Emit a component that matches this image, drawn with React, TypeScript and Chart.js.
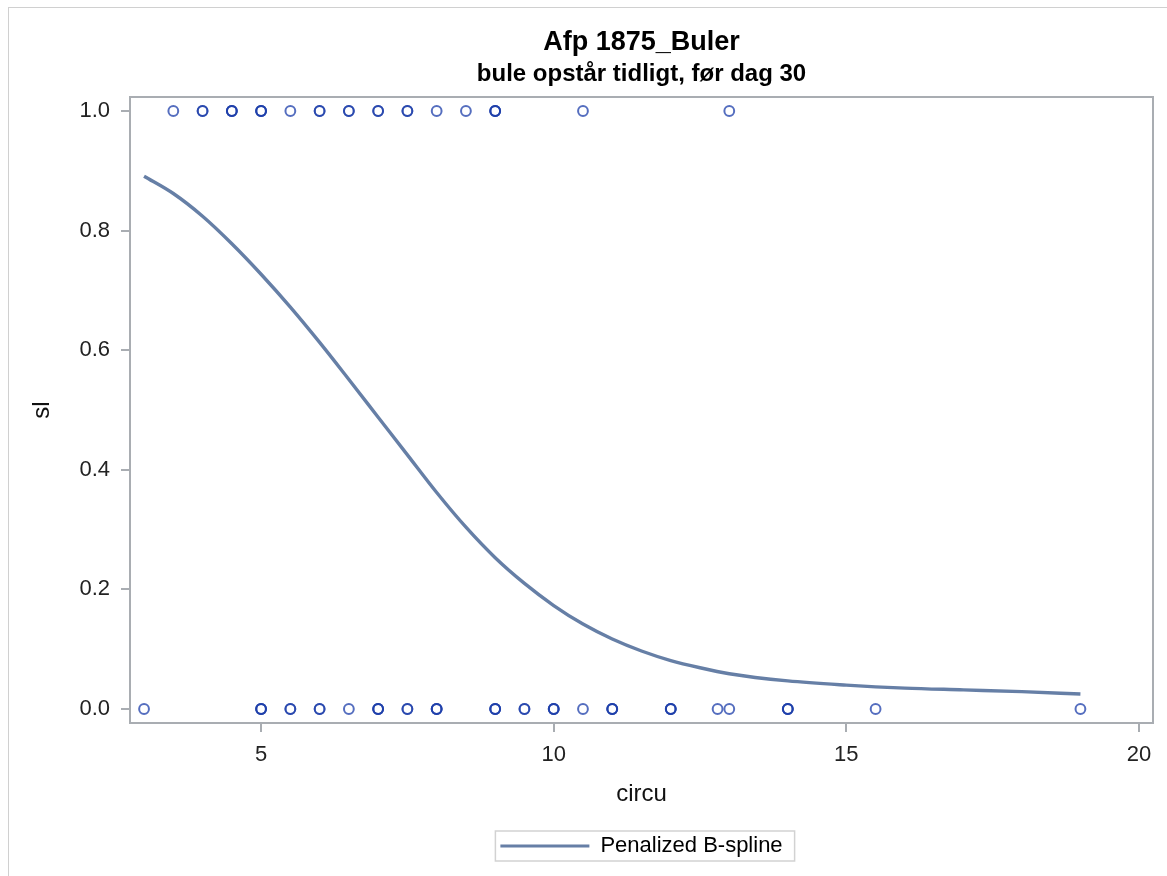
import React, { useEffect, useRef } from "react";
import { Chart, registerables } from "chart.js";

Chart.register(...registerables);

// ---- text ----
const titleText = "Afp 1875_Buler";
const subtitleText = "bule opstår tidligt, før dag 30";
const xAxisTitle = "circu";
const yAxisTitle = "sl";
const legendLabel = "Penalized B-spline";

// ---- observed data (circu values where sl = 1 and sl = 0) ----
const circuWhenSl1 = [3.5, 4, 4, 4.5, 4.5, 4.5, 5, 5, 5, 5.5, 6, 6, 6.5, 6.5, 7, 7, 7.5, 7.5, 8, 8.5, 9, 9, 9, 10.5, 13];
const circuWhenSl0 = [3, 5, 5, 5, 5.5, 5.5, 6, 6, 6.5, 7, 7, 7, 7.5, 7.5, 8, 8, 8, 9, 9, 9, 9.5, 9.5, 10, 10, 10, 10.5, 11, 11, 11, 12, 12, 12, 12.8, 13, 14, 14, 14, 15.5, 19];

// ---- penalized B-spline fit ----
const splineX = [3, 3.5, 4, 4.5, 5, 5.5, 6, 6.5, 7, 7.5, 8, 8.5, 9, 9.5, 10, 10.5, 11, 11.5, 12, 12.5, 13, 14, 15, 16, 17, 18, 19];
const splineY = [0.891, 0.862, 0.824, 0.778, 0.727, 0.672, 0.613, 0.551, 0.488, 0.425, 0.362, 0.304, 0.253, 0.21, 0.173, 0.142, 0.117, 0.097, 0.081, 0.069, 0.059, 0.047, 0.04, 0.035, 0.032, 0.029, 0.025];

// ---- axes ----
const xTicks = [5, 10, 15, 20];
const yTicks = [0, 0.2, 0.4, 0.6, 0.8, 1.0];
const xMin = 2.76;
const xMax = 20.24;
const yMin = -0.0234;
const yMax = 1.0234;

const FONT = '"Liberation Sans", Arial, Helvetica, sans-serif';
const AXIS_COLOR = "#A9ADB2";
const CURVE_COLOR = "#667FA6";
const MARKER_COLOR = "rgba(28, 62, 170, 0.75)";

export default function App() {
  const canvasRef = useRef<HTMLCanvasElement>(null);

  useEffect(() => {
    if (!canvasRef.current) return;
    Chart.defaults.font.family = FONT;

    const framePlugin = {
      id: "frame",
      beforeDatasetsDraw(chart: any) {
        const { ctx, chartArea: a } = chart;
        ctx.save();
        ctx.strokeStyle = AXIS_COLOR;
        ctx.lineWidth = 2;
        ctx.strokeRect(a.left, a.top, a.right - a.left, a.bottom - a.top);
        ctx.restore();
      },
    };

    const legendBorderPlugin = {
      id: "legendBorder",
      afterDraw(chart: any) {
        const lg = chart.legend;
        if (!lg || !lg.legendHitBoxes || !lg.legendHitBoxes.length) return;
        const hb = lg.legendHitBoxes[0];
        const cy = hb.top + hb.height / 2;
        const ctx = chart.ctx;
        ctx.save();
        ctx.strokeStyle = "#D2D2D2";
        ctx.lineWidth = 1.5;
        ctx.strokeRect(hb.left - 5, cy - 15, hb.width + 17, 30);
        ctx.restore();
      },
    };

    const points = [
      ...circuWhenSl1.map((x) => ({ x, y: 1 })),
      ...circuWhenSl0.map((x) => ({ x, y: 0 })),
    ];
    const curve = splineX.map((x, i) => ({ x, y: splineY[i] }));

    const chart = new Chart(canvasRef.current, {
      type: "scatter",
      data: {
        datasets: [
          {
            label: "obs",
            data: points,
            showLine: false,
            pointStyle: "circle",
            pointRadius: 4.9,
            pointHoverRadius: 4.9,
            pointBorderWidth: 2,
            borderColor: MARKER_COLOR,
            backgroundColor: "rgba(0,0,0,0)",
          },
          {
            label: legendLabel,
            data: curve,
            showLine: true,
            pointRadius: 0,
            borderColor: CURVE_COLOR,
            backgroundColor: CURVE_COLOR,
            borderWidth: 3.4,
            cubicInterpolationMode: "monotone",
          },
        ],
      },
      options: {
        responsive: false,
        animation: false,
        devicePixelRatio: 1,
        layout: { padding: { left: 0, right: 14, top: 0, bottom: 9 } },
        plugins: {
          tooltip: { enabled: false },
          title: {
            display: true,
            text: titleText,
            fullSize: false,
            color: "#000",
            font: { size: 27, weight: "bold", family: FONT },
            padding: { top: 26.4, bottom: 0 },
          },
          subtitle: {
            display: true,
            text: subtitleText,
            fullSize: false,
            color: "#000",
            font: { size: 24, weight: "bold", family: FONT },
            padding: { top: 1.5, bottom: 7.9 },
          },
          legend: {
            display: true,
            position: "bottom",
            fullSize: false,
            labels: {
              boxWidth: 89,
              boxHeight: 3,
              padding: 10,
              color: "#111",
              font: { size: 22, family: FONT },
              generateLabels: () => [
                {
                  text: legendLabel,
                  fillStyle: CURVE_COLOR,
                  strokeStyle: CURVE_COLOR,
                  lineWidth: 0,
                  hidden: false,
                  datasetIndex: 1,
                },
              ],
            },
          },
        },
        scales: {
          x: {
            type: "linear",
            min: xMin,
            max: xMax,
            afterBuildTicks: (s: any) => {
              s.ticks = xTicks.map((v) => ({ value: v }));
            },
            afterFit: (s: any) => {
              s.height = 102;
            },
            ticks: {
              color: "#222",
              font: { size: 22, family: FONT },
              padding: 9.5,
              maxRotation: 0,
              autoSkip: false,
              callback: (v: any) => String(v),
            },
            grid: {
              drawOnChartArea: false,
              drawTicks: true,
              tickLength: 9,
              color: AXIS_COLOR,
              lineWidth: 2,
            },
            border: { display: false },
            title: {
              display: true,
              text: xAxisTitle,
              color: "#111",
              font: { size: 24, family: FONT },
              padding: { top: 0, bottom: 16.6 },
            },
          },
          y: {
            type: "linear",
            min: yMin,
            max: yMax,
            afterBuildTicks: (s: any) => {
              s.ticks = yTicks.map((v) => ({ value: v }));
            },
            afterFit: (s: any) => {
              s.width = 130;
            },
            ticks: {
              color: "#222",
              font: { size: 22, family: FONT },
              padding: 11,
              autoSkip: false,
              callback: (v: any) => Number(v).toFixed(1),
            },
            grid: {
              drawOnChartArea: false,
              drawTicks: true,
              tickLength: 9,
              color: AXIS_COLOR,
              lineWidth: 2,
            },
            border: { display: false },
            title: {
              display: true,
              text: yAxisTitle,
              color: "#111",
              font: { size: 24, family: FONT },
              padding: { top: 27.6, bottom: 0 },
            },
          },
        },
      },
      plugins: [framePlugin, legendBorderPlugin],
    } as any);

    return () => chart.destroy();
  }, []);

  return (
    <div style={{ position: "fixed", left: 0, top: 0, width: 1167, height: 876, background: "#fff" }}>
      <div
        style={{
          position: "absolute",
          left: 8,
          top: 7,
          width: 1159,
          height: 869,
          borderLeft: "1px solid #D0D0D0",
          borderTop: "1px solid #D0D0D0",
          boxSizing: "border-box",
        }}
      />
      <canvas
        ref={canvasRef}
        width={1167}
        height={876}
        style={{ position: "absolute", left: 0, top: 0, width: 1167, height: 876, display: "block" }}
      />
    </div>
  );
}
